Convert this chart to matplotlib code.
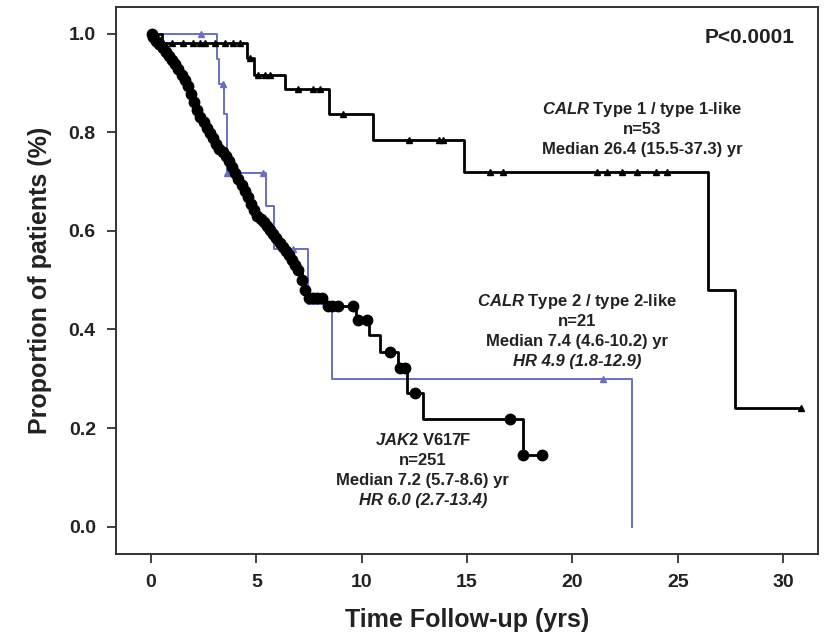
import numpy as np
import matplotlib
matplotlib.use("Agg")
import matplotlib.pyplot as plt

plt.rcParams['font.family'] = ['Liberation Sans', 'DejaVu Sans']
plt.rcParams['mathtext.fontset'] = 'custom'
plt.rcParams['mathtext.it'] = 'Liberation Sans:italic:bold'
plt.rcParams['mathtext.rm'] = 'Liberation Sans:bold'

# JAK2 V617F (step times / survival after each step)
jak2_t = [0, 0.1, 0.25, 0.4, 0.55, 0.7, 0.85, 1.0, 1.15, 1.3, 1.45, 1.6, 1.75,
          1.9, 2.05, 2.2, 2.35, 2.5, 2.65, 2.8, 2.95, 3.1, 3.25, 3.4, 3.55, 3.7,
          3.85, 4.0, 4.15, 4.3, 4.45, 4.6, 4.75, 4.9, 5.05, 5.2, 5.35, 5.5, 5.65,
          5.8, 5.95, 6.1, 6.25, 6.4, 6.55, 6.7, 6.85, 7.0, 7.15, 7.3, 7.45, 8.2,
          9.73, 10.36, 10.87, 11.74, 12.13, 12.9, 17.64]
jak2_s = [1.0, 0.994, 0.986, 0.978, 0.970, 0.962, 0.954, 0.946, 0.938, 0.928,
          0.917, 0.906, 0.894, 0.878, 0.862, 0.846, 0.831, 0.820, 0.809, 0.799,
          0.788, 0.777, 0.766, 0.759, 0.751, 0.742, 0.729, 0.717, 0.705, 0.692,
          0.680, 0.668, 0.655, 0.642, 0.631, 0.624, 0.617, 0.609, 0.602, 0.593,
          0.585, 0.576, 0.568, 0.559, 0.551, 0.541, 0.530, 0.520, 0.500, 0.480,
          0.464, 0.447, 0.420, 0.389, 0.355, 0.322, 0.271, 0.219, 0.146]
jak2_end = 18.54
jak2_cens = [0.05, 0.1, 0.25, 0.4, 0.55, 0.7, 0.85, 1.0, 1.15, 1.3, 1.45, 1.6,
             1.75, 1.9, 2.05, 2.2, 2.35, 2.5, 2.65, 2.8, 2.95, 3.1, 3.25, 3.4,
             3.55, 3.7, 3.85, 4.0, 4.15, 4.3, 4.45, 4.6, 4.75, 4.9, 5.05, 5.2,
             5.35, 5.5, 5.65, 5.8, 5.95, 6.1, 6.25, 6.4, 6.55, 6.7, 6.85, 7.0,
             7.15, 7.3, 7.5, 7.7, 7.9, 8.1, 8.4, 8.6, 8.9, 9.6, 9.83, 10.24,
             11.34, 11.8, 12.05, 12.53, 17.04, 17.64, 18.54]

# CALR type 1 / type 1-like
calr1_t = [0, 0.5, 4.54, 4.89, 6.36, 8.46, 10.55, 14.87, 26.42, 27.72]
calr1_s = [1.0, 0.980, 0.951, 0.917, 0.887, 0.836, 0.785, 0.719, 0.481, 0.240]
calr1_end = 30.85
calr1_cens = [0.58, 0.98, 1.53, 2.0, 2.32, 2.56, 3.04, 3.51, 3.91, 4.22, 4.7,
              5.09, 5.41, 5.65, 6.99, 7.70, 8.02, 9.13, 12.26, 13.68, 13.87,
              16.09, 16.72, 21.15, 21.63, 22.34, 23.05, 23.97, 24.47, 30.85]

# CALR type 2 / type 2-like
calr2_t = [0, 3.12, 3.21, 3.46, 3.59, 5.44, 5.85, 7.47, 8.6, 22.81]
calr2_s = [1.0, 0.948, 0.897, 0.836, 0.717, 0.650, 0.563, 0.452, 0.300, 0.0]
calr2_end = 22.81
calr2_cens = [2.37, 3.40, 3.62, 5.33, 6.76, 8.5, 21.44]

calr1_text = [r"$\it{CALR}$ Type 1 / type 1-like", "n=53",
              "Median 26.4 (15.5-37.3) yr"]
calr2_text = [r"$\it{CALR}$ Type 2 / type 2-like", "n=21",
              "Median 7.4 (4.6-10.2) yr", "HR 4.9 (1.8-12.9)"]
jak2_text = [r"$\it{JAK2}$ V617F", "n=251", "Median 7.2 (5.7-8.6) yr",
             "HR 6.0 (2.7-13.4)"]

x_ticks = [0, 5, 10, 15, 20, 25, 30]
y_ticks = [0.0, 0.2, 0.4, 0.6, 0.8, 1.0]

BLUE = '#6a6ec4'


def km(ax, t, s, end, cens, color, lw, marker, ms):
    t = np.asarray(t)
    s = np.asarray(s)
    tt = np.append(t, end)
    ss = np.append(s, s[-1])
    ax.step(tt, ss, where='post', color=color, lw=lw, zorder=3)
    idx = np.searchsorted(t, cens, side='right') - 1
    ax.plot(cens, s[idx], ls='none', marker=marker, ms=ms, color=color,
            zorder=4)


fig = plt.figure(figsize=(8.31, 6.37), dpi=100)
ax = fig.add_axes([0.1396, 0.1303, 0.8448, 0.8587])

km(ax, calr2_t, calr2_s, calr2_end, calr2_cens, BLUE, 1.4, '^', 5)
km(ax, jak2_t, jak2_s, jak2_end, jak2_cens, 'black', 2.0, 'o', 7.5)
km(ax, calr1_t, calr1_s, calr1_end, calr1_cens, 'black', 2.0, '^', 5)

ax.set_xlim(-1.66, 31.66)
ax.set_ylim(-0.0555, 1.054)
ax.set_xticks(x_ticks)
ax.set_yticks(y_ticks)
ax.set_xticklabels([str(v) for v in x_ticks])
ax.set_yticklabels([f"{v:.1f}" for v in y_ticks])
ax.tick_params(direction='out', length=6.5, width=1.3, labelsize=14,
               color='#333333', pad=8)
for lab in ax.get_xticklabels() + ax.get_yticklabels():
    lab.set_fontweight('bold')
    lab.set_color('#222222')
for sp in ax.spines.values():
    sp.set_linewidth(1.4)
    sp.set_color('#333333')

ax.set_xlabel("Time Follow-up (yrs)", fontsize=18, fontweight='bold',
              labelpad=12, color='#222222')
ax.set_ylabel("Proportion of patients (%)", fontsize=18, fontweight='bold',
              labelpad=12, color='#222222')

ax.text(0.967, 0.945, "P<0.0001", transform=ax.transAxes, ha='right',
        va='center', fontsize=15, fontweight='bold', color='#222222')


def block(lines, x, y0, dy, italic_last):
    for i, line in enumerate(lines):
        style = 'italic' if (italic_last and i == len(lines) - 1) else 'normal'
        ax.text(x, y0 - i * dy, line, transform=ax.transAxes, ha='center',
                va='center', fontsize=12, fontweight='bold', style=style,
                color='#222222')


block(calr1_text, 0.749, 0.812, 0.0366, False)
block(calr2_text, 0.657, 0.461, 0.0366, True)
block(jak2_text, 0.437, 0.208, 0.0366, True)

fig.savefig("out.png", dpi=100)
